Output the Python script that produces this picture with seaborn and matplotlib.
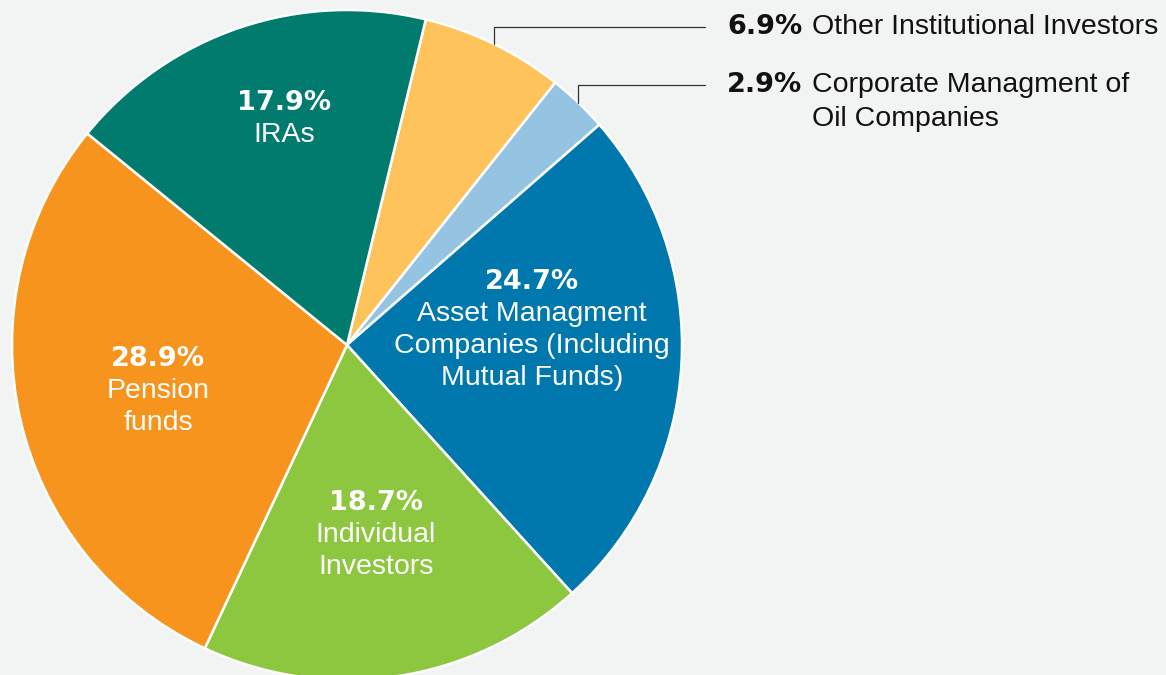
import numpy as np
import matplotlib
matplotlib.use("Agg")
import matplotlib.pyplot as plt
import seaborn as sns

# ---- data (clockwise from the top) ----
categories = ["Other Institutional Investors", "Corporate Managment of\nOil Companies",
              "Asset Managment\nCompanies (Including\nMutual Funds)", "Individual\nInvestors",
              "Pension\nfunds", "IRAs"]
values = [6.9, 2.9, 24.7, 18.7, 28.9, 17.9]
pct_labels = ["6.9%", "2.9%", "24.7%", "18.7%", "28.9%", "17.9%"]
colors = ["#fec35a", "#94c4e2", "#0077ad", "#8dc63f", "#f7941d", "#007b6e"]
inside = [False, False, True, True, True, True]

# style: label radial distance (fraction of radius) and angular shift (deg)
label_r = [0, 0, 0.555, 0.575, 0.58, 0.70]
label_shift = [0, 0, 8.0, 0.0, 0.8, -3.1]
outside_y = [0.950, 0.776]

BG = "#f2f3f3"
sns.set_theme(style="white", rc={"figure.facecolor": BG, "axes.facecolor": BG})
plt.rcParams["font.family"] = ["Liberation Sans", "DejaVu Sans"]

fig = plt.figure(figsize=(11.66, 6.75), dpi=100)
ax = fig.add_axes([0, 0, 1, 1])
ax.set_facecolor(BG)

wedges, _ = ax.pie(values, colors=colors, startangle=76.4, counterclock=False,
                   radius=1.0, wedgeprops=dict(edgecolor="white", linewidth=1.8))

R_PX = 335.0
ax.set_xlim(-347 / R_PX, (1166 - 347) / R_PX)
ax.set_ylim(-(675 - 345) / R_PX, 345 / R_PX)
ax.set_aspect("auto")
ax.axis("off")

fs = 20.5
fs_pct = 19.5
pct_family = ["DejaVu Sans"]
spacing = 32.0 / R_PX
x_line_end = (705 - 347) / R_PX
x_pct = (727 - 347) / R_PX
x_name = (812 - 347) / R_PX

oi = 0
for i, w in enumerate(wedges):
    mid = np.deg2rad((w.theta1 + w.theta2) / 2.0)
    if inside[i]:
        ang = mid + np.deg2rad(label_shift[i])
        cx, cy = label_r[i] * np.cos(ang), label_r[i] * np.sin(ang)
        lines = [pct_labels[i]] + categories[i].split("\n")
        n = len(lines)
        for k, line in enumerate(lines):
            y = cy + ((n - 1) / 2.0 - k) * spacing
            if k == 0:
                ax.text(cx, y, line, ha="center", va="center", color="white",
                        fontsize=fs_pct, fontweight="bold", family=pct_family)
            else:
                ax.text(cx, y, line, ha="center", va="center", color="white",
                        fontsize=fs)
    else:
        ex, ey = np.cos(mid), np.sin(mid)
        ty = outside_y[oi]
        oi += 1
        ax.plot([ex, ex, x_line_end], [ey, ty, ty], color="#333333", lw=0.9,
                solid_joinstyle="miter")
        ax.text(x_pct, ty, pct_labels[i], ha="left", va="center", color="#111111",
                fontsize=fs_pct, fontweight="bold", family=pct_family)
        for k, line in enumerate(categories[i].split("\n")):
            ax.text(x_name, ty - k * 34.0 / R_PX, line, ha="left", va="center",
                    color="#111111", fontsize=fs)

fig.savefig("out.png", dpi=100, facecolor=BG)
